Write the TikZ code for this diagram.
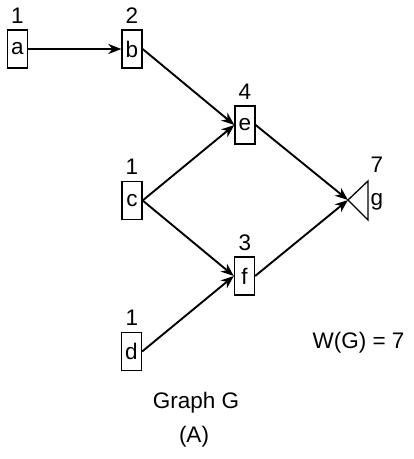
\documentclass[tikz,border=0pt]{standalone}
\usepackage{fontspec}
\setmainfont{Liberation Sans}
\usetikzlibrary{arrows.meta}
\begin{document}
\begin{tikzpicture}[x=1pt,y=-1pt,
  font=\fontsize{22.5}{26}\selectfont,
  vbox/.style={draw,line width=1.3pt,minimum width=20pt,minimum height=38pt,inner sep=0pt},
  wlabel/.style={inner sep=0pt},
  edge/.style={line width=1.9pt,-{Stealth[length=13pt,width=10pt,inset=4pt]}}]
\path[use as bounding box] (0,0) rectangle (414,459);
\node[vbox] (a) at (17.5,49) {a};
\node[vbox] (b) at (132,49) {b};
\node[vbox] (e) at (245,125) {e};
\node[vbox] (c) at (132,200.5) {c};
\node[vbox] (f) at (244.5,276) {f};
\node[vbox] (d) at (131.5,351.5) {d};
\draw[line width=1.3pt] (348,200) -- (368,181) -- (368,220) -- cycle;
\coordinate (g) at (348,200);
\node[wlabel] (gl) at (377,202) {g};
\node[wlabel] (la) at (17.5,16) {1};
\node[wlabel] (lb) at (132,16) {2};
\node[wlabel] (le) at (245,92) {4};
\node[wlabel] (lc) at (132,167) {1};
\node[wlabel] (lf) at (245,243) {3};
\node[wlabel] (ld) at (132,318) {1};
\node[wlabel] (lg) at (377,165) {7};
\node[wlabel] (w) at (358.5,343) {W(G) = 7};
\node[wlabel] (t1) at (196,403) {Graph G};
\node[wlabel] (t2) at (194,437) {(A)};
\draw[edge] (a.east) -- (b.west);
\draw[edge] (b.east) -- (e.west);
\draw[edge] (c.east) -- (e.west);
\draw[edge] (c.east) -- (f.west);
\draw[edge] (d.east) -- (f.west);
\draw[edge] (e.east) -- (g);
\draw[edge] (f.east) -- (g);
\end{tikzpicture}
\end{document}
